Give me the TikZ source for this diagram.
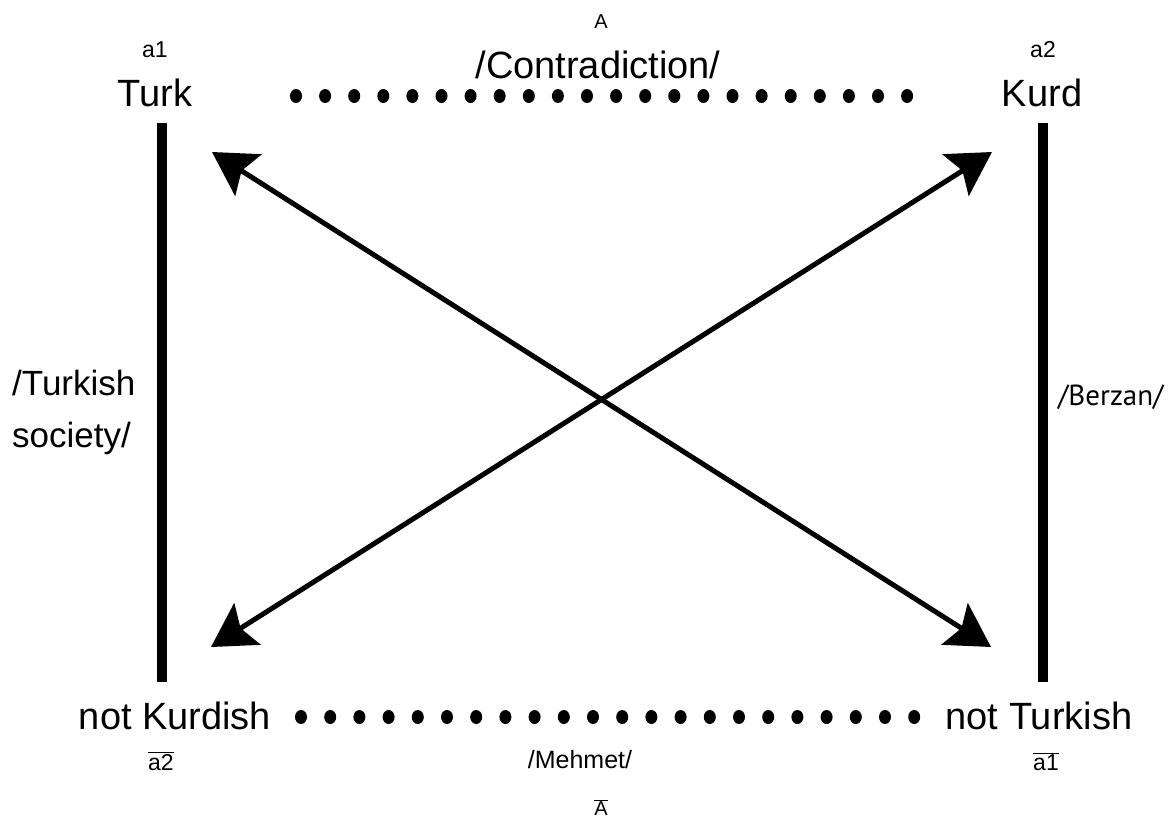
\documentclass[tikz,border=0pt]{standalone}
\usepackage{fontspec}
\setmainfont{Liberation Sans}
\newfontfamily\berzanfont{PT Sans}
\usetikzlibrary{arrows.meta}
\begin{document}
\begin{tikzpicture}[x=1pt,y=-1pt,
  bigtext/.style={inner sep=0pt,anchor=base,font=\fontsize{38}{42}\selectfont},
  midtext/.style={inner sep=0pt,anchor=base,font=\fontsize{25}{29}\selectfont},
  smalltext/.style={inner sep=0pt,anchor=base,font=\fontsize{23}{27}\selectfont},
  tinytext/.style={inner sep=0pt,anchor=base,font=\fontsize{20}{24}\selectfont},
  bar/.style={line width=10pt},
  cross/.style={line width=5pt,{Stealth[length=43pt,width=49pt,inset=8pt]}-{Stealth[length=43pt,width=49pt,inset=8pt]}},
  dot/.style={fill=black}]
\useasboundingbox (0,0) rectangle (1176,823);

% labels of the four corners
\node[tinytext] (A) at (601,28) {A};
\node[bigtext] (contra) at (598,78) {/Contradiction/};
\node[smalltext] (a1) at (155,57) {a1};
\node[smalltext] (a2) at (1043,57) {a2};
\node[bigtext] (turk) at (155,106) {Turk};
\node[bigtext] (kurd) at (1042,106) {Kurd};
\node[bigtext] (notk) at (175,729) {not Kurdish};
\node[bigtext] (nott) at (1039,729) {not Turkish};
\node[smalltext] (na2) at (161,770) {$\overline{\mbox{a2}}$};
\node[smalltext] (na1) at (1046,770) {$\overline{\mbox{a1}}$};
\node[midtext] (mehmet) at (580,768) {/Mehmet/};
\node[tinytext] (nA) at (601,815) {$\overline{\mbox{A}}$};

% side labels
\node[inner sep=0pt,anchor=west,align=left,
      font=\fontsize{35}{52}\selectfont] (society) at (12,412) {/Turkish\\society/};
\node[inner sep=0pt,anchor=west,font=\berzanfont\fontsize{29}{33}\selectfont] (berzan) at (1058,397) {/Berzan/};

% vertical bars
\coordinate (lt) at (161.5,123);
\coordinate (lb) at (161.5,682);
\coordinate (rt) at (1043,123);
\coordinate (rb) at (1043,682);
\draw[bar] (lt) -- (lb);
\draw[bar] (rt) -- (rb);

% diagonals
\coordinate (tl) at (212,152);
\coordinate (tr) at (992,152);
\coordinate (bl) at (211,647);
\coordinate (br) at (991,647);
\draw[cross] (tl) -- (br);
\draw[cross] (bl) -- (tr);

% dotted rows
\foreach \i in {0,...,21} {
  \fill[dot] ({296+\i*29.1},96) ellipse [x radius=6pt,y radius=7pt];
  \fill[dot] ({301+\i*29.2},717) ellipse [x radius=6pt,y radius=7pt];
}
\end{tikzpicture}
\end{document}
